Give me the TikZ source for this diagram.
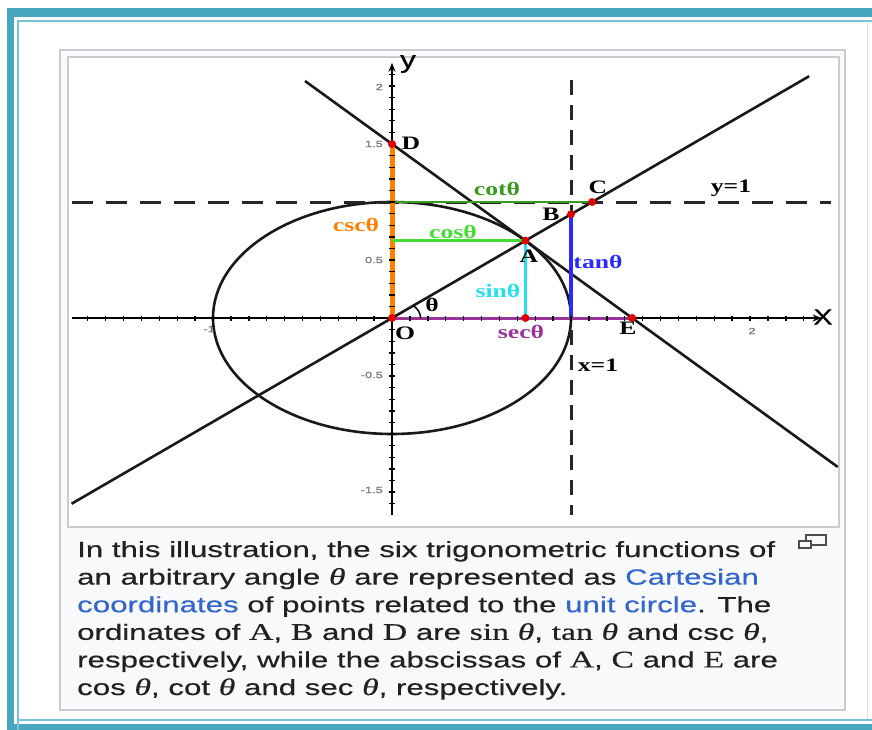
\documentclass[tikz,border=0pt]{standalone}
\usepackage{fontspec}
\setmainfont{Liberation Sans}
\newfontfamily\capfont[FakeStretch=1.42,FakeBold=0.4]{Liberation Sans}
\newfontfamily\capserif[FakeStretch=1.42,FakeBold=0.4,Scale=1.08]{Liberation Serif}
\newfontfamily\lblfont[FakeStretch=1.35]{Liberation Serif}
\newfontfamily\axfont[FakeStretch=1.3,FakeBold=0.6]{Liberation Sans}
\usetikzlibrary{arrows.meta}

\definecolor{frameteal}{HTML}{48A6BF}
\definecolor{lightteal}{HTML}{79C3D6}
\definecolor{boxgray}{HTML}{F8F9FA}
\definecolor{boxline}{HTML}{C8CCD1}
\definecolor{captext}{HTML}{202122}
\definecolor{linkblue}{HTML}{3366CC}
\definecolor{cscorange}{HTML}{FF8000}
\definecolor{cotgreen}{HTML}{3A9A20}
\definecolor{cosgreen}{HTML}{44DD33}
\definecolor{sincyan}{HTML}{22E0EE}
\definecolor{tanblue}{HTML}{2A2AFF}
\definecolor{secpurple}{HTML}{993399}
\definecolor{dotred}{HTML}{E00000}

\newcommand{\mth}[1]{{\capserif #1}}
\newcommand{\thet}{{\capserif\itshape θ}}

\tikzset{
  capline/.style={anchor=base west, inner sep=0pt, text=captext,
    font=\capfont\fontsize{22}{26}\selectfont},
  ptlabel/.style={inner sep=0pt, font=\lblfont\bfseries\fontsize{19}{20}\selectfont},
  ticklabel/.style={inner sep=0pt, text=black!55, font=\capfont\fontsize{9}{10}\selectfont},
  dot/.style={circle, fill=dotred, inner sep=0pt, minimum size=8pt},
  curve/.style={line width=2.6pt, black!90},
  dashline/.style={line width=3pt, black!85},
  tick/.style={line width=1.4pt, black}
}

\begin{document}
\begin{tikzpicture}[x=1pt,y=-1pt]
\useasboundingbox (0,0) rectangle (872,730);
\fill[white] (0,0) rectangle (872,730);

% outer frame
\fill[frameteal] (7,8) rectangle (872,17);
\fill[frameteal] (7,8) rectangle (14,730);
\fill[frameteal] (7,724) rectangle (872,730);
\draw[lightteal, line width=2pt] (18,730) -- (18,21.5) -- (872,21.5);
\draw[lightteal, line width=2pt] (18,719.5) -- (872,719.5);
\draw[boxline!60, line width=1pt] (867,22) -- (867,719);

% figure box and image box
\draw[boxline, fill=boxgray, line width=1.5pt] (60,50) rectangle (845,710);
\draw[boxline, fill=white, line width=1.5pt] (68,57) rectangle (839,527);

\begin{scope}[shift={(392,318)}, x=179pt, y=116pt]
  % points
  \coordinate (O) at (0,0);
  \coordinate (A) at (0.7454,0.6667);
  \coordinate (B) at (1,0.8944);
  \coordinate (C) at (1.1180,1);
  \coordinate (D) at (0,1.5);
  \coordinate (E) at (1.3416,0);
  \coordinate (F) at (0.7454,0);
  \coordinate (G) at (0,0.6667);
  \coordinate (H) at (0,1);
  \coordinate (T) at (1,0);
  % ends of the long lines
  \coordinate (rayL) at (-1.79,-1.601);
  \coordinate (rayR) at (2.33,2.084);
  \coordinate (tanL) at (-0.486,2.043);
  \coordinate (tanR) at (2.49,-1.284);
  \coordinate (xL) at (-1.79,0);
  \coordinate (xR) at (2.40,0);
  \coordinate (yB) at (0,-1.70);
  \coordinate (yT) at (0,2.20);
  \coordinate (hL) at (-1.79,1);
  \coordinate (hR) at (2.45,1);
  \coordinate (vT) at (1,2.05);
  \coordinate (vB) at (1,-1.70);

  % unit circle
  \draw[curve] (O) ellipse [x radius=179pt, y radius=116pt];

  % axes
  \draw[line width=2pt, -{Stealth[length=9pt,width=7pt]}] (xL) -- (xR);
  \draw[line width=2.6pt, -{Stealth[length=9pt,width=7pt]}] (yB) -- (yT);

  % lines through O and through D, E
  \draw[curve] (rayL) -- (rayR);
  \draw[curve] (tanL) -- (tanR);

  % y=1 and x=1
  \draw[dashline, dash pattern=on 21pt off 13pt] (hL) -- (hR);
  \draw[dashline, dash pattern=on 15pt off 10pt] (vT) -- (vB);

  % the six functions
  \draw[cscorange, line width=5pt] (O) -- (D);
  \draw[cotgreen, line width=2.5pt] (H) -- (C);
  \draw[cosgreen, line width=2.5pt] (G) -- (A);
  \draw[sincyan, line width=3.5pt] (F) -- (A);
  \draw[tanblue, line width=4.5pt] (T) -- (B);
  \draw[secpurple, line width=3pt] (O) -- (E);

  % ticks
  \foreach \t in {-17,...,23}
    \draw[tick] ({\t/10},0) ++(0,-2.5pt) -- ++(0,5pt);
  \foreach \t in {-16,...,21}
    \draw[tick] (0,{\t/10}) ++(-3pt,0) -- ++(6pt,0);

  % angle
  \draw[line width=1.5pt] (O) ++(28.6pt,0)
    arc [start angle=0, end angle=41.8, x radius=28.6pt, y radius=18.6pt];

  % red points
  \foreach \p in {O,A,B,C,D,E,F}
    \node[dot] (dot\p) at (\p) {};
\end{scope}

% tick labels
\node[ticklabel] (tkxm1) at (209,329) {-1};
\node[ticklabel] (tkx2) at (752,331) {2};
\node[ticklabel, anchor=east] (tky2) at (383,87) {2};
\node[ticklabel, anchor=east] (tky15) at (383,144) {1.5};
\node[ticklabel, anchor=east] (tky05) at (383,260) {0.5};
\node[ticklabel, anchor=east] (tkym05) at (383,375) {-0.5};
\node[ticklabel, anchor=east] (tkym15) at (383,490) {-1.5};

% axis names
\node[inner sep=0pt, font=\axfont\fontsize{22}{22}\selectfont] (xname) at (823,317) {X};
\node[inner sep=0pt, font=\axfont\fontsize{24}{24}\selectfont] (yname) at (408,64) {y};

% point labels
\node[ptlabel] (labD) at (411,143) {D};
\node[ptlabel, text=cotgreen] (labcot) at (497,189) {cotθ};
\node[ptlabel] (labC) at (598,187) {C};
\node[ptlabel] (labB) at (551,214) {B};
\node[ptlabel] (laby1) at (731,188) {y=1};
\node[ptlabel, text=cscorange] (labcsc) at (356,225) {cscθ};
\node[ptlabel, text=cosgreen] (labcos) at (453,232) {cosθ};
\node[ptlabel] (labA) at (529,256) {A};
\node[ptlabel, text=tanblue] (labtan) at (598,262) {tanθ};
\node[ptlabel, text=sincyan] (labsin) at (498,291) {sinθ};
\node[ptlabel] (labth) at (432,305) {θ};
\node[ptlabel] (labO) at (405,333) {O};
\node[ptlabel, text=secpurple] (labsec) at (521,332) {secθ};
\node[ptlabel] (labE) at (628,328) {E};
\node[ptlabel] (labx1) at (598,365) {x=1};

% enlarge icon
\draw[black!70, line width=1.5pt] (806,535) rectangle (826,545);
\draw[black!70, line width=1.5pt, fill=boxgray] (799,541) rectangle (811,548);

% caption
\node[capline] (cap1) at (77,557) {In this illustration, the six trigonometric functions of};
\node[capline] (cap2) at (77,584.6) {an arbitrary angle \thet\ are represented as \textcolor{linkblue}{Cartesian}};
\node[capline] (cap3) at (77,612.2) {\textcolor{linkblue}{coordinates} of points related to the \textcolor{linkblue}{unit circle}. The};
\node[capline] (cap4) at (77,639.8) {ordinates of \mth{A}, \mth{B} and \mth{D} are \mth{sin} \thet, \mth{tan} \thet\ and csc \thet,};
\node[capline] (cap5) at (77,667.4) {respectively, while the abscissas of \mth{A}, \mth{C} and \mth{E} are};
\node[capline] (cap6) at (77,695) {cos \thet, cot \thet\ and sec \thet, respectively.};
\end{tikzpicture}
\end{document}
